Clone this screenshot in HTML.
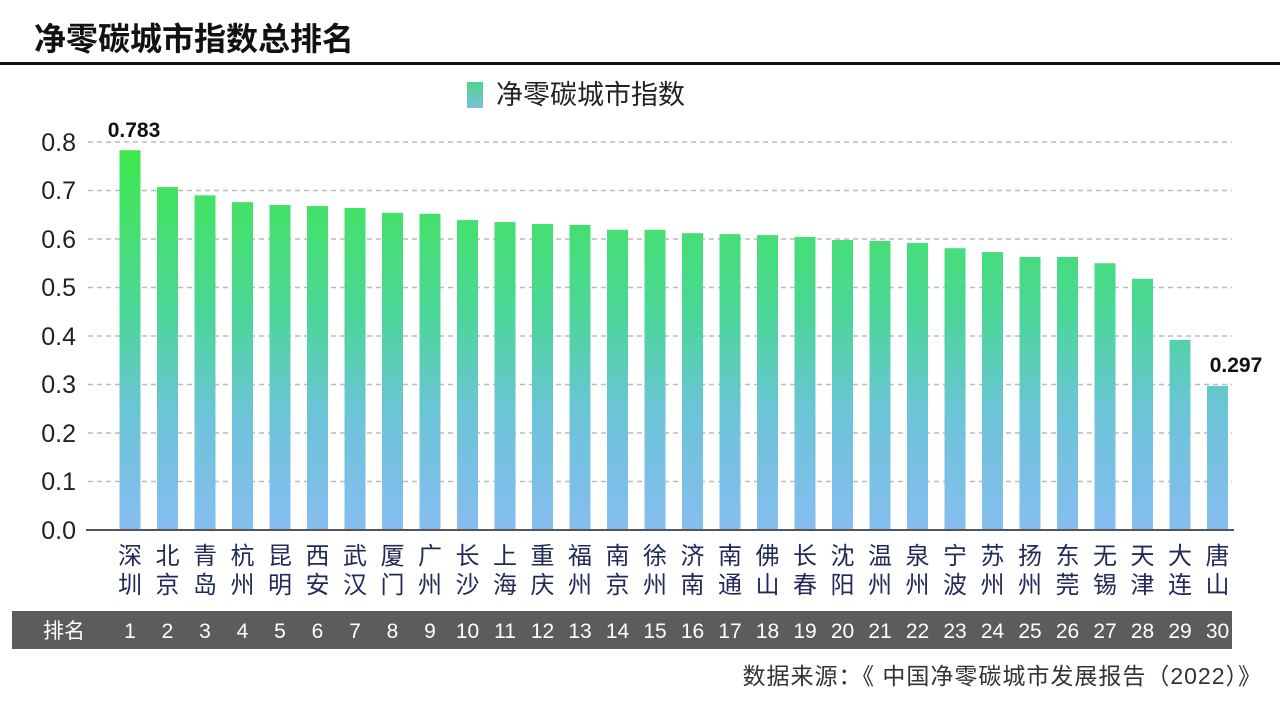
<!DOCTYPE html>
<html><head><meta charset="utf-8"><style>
body{margin:0;background:#fff;}
svg text{font-family:"Liberation Sans","Noto Sans CJK SC",sans-serif;}
</style></head><body>
<svg width="1280" height="708" viewBox="0 0 1280 708" xmlns="http://www.w3.org/2000/svg">
<defs>
<linearGradient id="g" gradientUnits="userSpaceOnUse" x1="0" y1="142" x2="0" y2="530">
<stop offset="0" stop-color="#3ee84a"/>
<stop offset="0.45" stop-color="#4cd69a"/>
<stop offset="0.7" stop-color="#6cc4d8"/>
<stop offset="1" stop-color="#86bdf0"/>
</linearGradient>
<linearGradient id="lg" x1="0" y1="0" x2="0" y2="1"><stop offset="0" stop-color="#4cd68a"/><stop offset="1" stop-color="#7cc0e0"/></linearGradient>
</defs>
<rect width="1280" height="708" fill="#fff"/>
<text x="34" y="50" font-size="32" font-weight="bold" fill="#111">净零碳城市指数总排名</text>
<rect x="0" y="62" width="1280" height="3" fill="#111"/>
<rect x="467" y="82" width="16" height="26" fill="url(#lg)"/>
<text x="496" y="104" font-size="27" fill="#222">净零碳城市指数</text>
<g stroke="#bbb" stroke-width="1.5" stroke-dasharray="5,4">
<line x1="88" y1="142" x2="1232" y2="142"/><line x1="88" y1="190.5" x2="1232" y2="190.5"/>
<line x1="88" y1="239" x2="1232" y2="239"/><line x1="88" y1="287.5" x2="1232" y2="287.5"/>
<line x1="88" y1="336" x2="1232" y2="336"/><line x1="88" y1="384.5" x2="1232" y2="384.5"/>
<line x1="88" y1="433" x2="1232" y2="433"/><line x1="88" y1="481.5" x2="1232" y2="481.5"/>
</g>
<g font-size="25" fill="#222" text-anchor="end">
<text x="76" y="151">0.8</text><text x="76" y="199">0.7</text><text x="76" y="248">0.6</text>
<text x="76" y="296">0.5</text><text x="76" y="345">0.4</text><text x="76" y="393">0.3</text>
<text x="76" y="442">0.2</text><text x="76" y="490">0.1</text><text x="76" y="539">0.0</text>
</g>
<g id="bars" fill="url(#g)"></g>
<line x1="86" y1="530" x2="1234" y2="530" stroke="#555" stroke-width="2"/>
<g id="labels" font-size="24" fill="#222a5a" text-anchor="middle"></g>
<text x="134" y="137" font-size="21" font-weight="bold" fill="#111" text-anchor="middle">0.783</text>
<text x="1236" y="372" font-size="21" font-weight="bold" fill="#111" text-anchor="middle">0.297</text>
<rect x="12" y="611" width="1220" height="38" fill="#5c5c5c"/>
<g id="ranks" font-size="21" fill="#fff" text-anchor="middle"><text x="64" y="638">排名</text></g>
<text x="1262" y="684" font-size="23" fill="#333" text-anchor="end" letter-spacing="1">数据来源：《 中国净零碳城市发展报告（2022）》</text>
</svg>
<script>
var v=[0.783,0.707,0.69,0.676,0.67,0.668,0.664,0.654,0.652,0.639,0.635,0.631,0.629,0.619,0.619,0.612,0.61,0.608,0.604,0.598,0.596,0.592,0.581,0.573,0.563,0.563,0.55,0.518,0.392,0.297];
var c=["深圳","北京","青岛","杭州","昆明","西安","武汉","厦门","广州","长沙","上海","重庆","福州","南京","徐州","济南","南通","佛山","长春","沈阳","温州","泉州","宁波","苏州","扬州","东莞","无锡","天津","大连","唐山"];
var ns="http://www.w3.org/2000/svg",b=document.getElementById("bars"),l=document.getElementById("labels"),r=document.getElementById("ranks");
for(var i=0;i<30;i++){var x=130+i*37.5,h=v[i]*485;
var e=document.createElementNS(ns,"rect");e.setAttribute("x",x-10.5);e.setAttribute("y",530-h);e.setAttribute("width",21);e.setAttribute("height",h);b.appendChild(e);
for(var k=0;k<2;k++){var t=document.createElementNS(ns,"text");t.setAttribute("x",x);t.setAttribute("y",564+k*29);t.textContent=c[i][k];l.appendChild(t);}
var t2=document.createElementNS(ns,"text");t2.setAttribute("x",x);t2.setAttribute("y",638);t2.textContent=i+1;r.appendChild(t2);}
</script>
</body></html>
